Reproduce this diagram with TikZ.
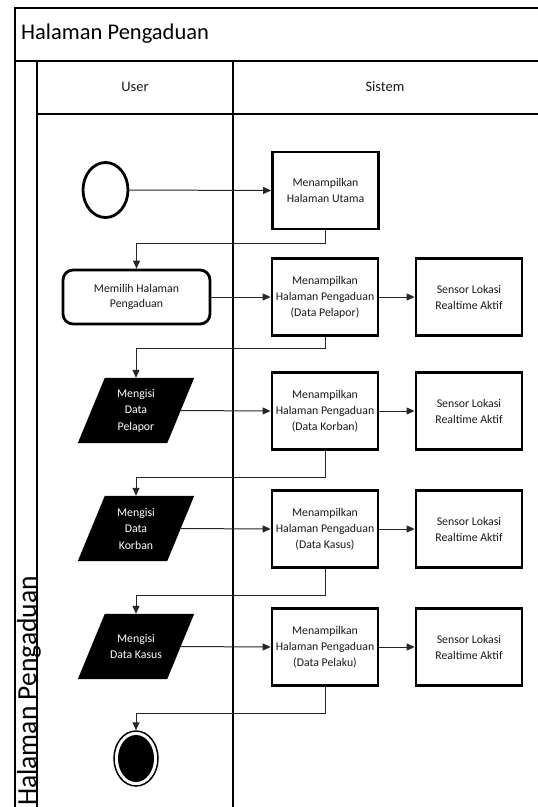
\documentclass[tikz,border=0pt]{standalone}
\usepackage{fontspec}
\setmainfont{Carlito}
\usetikzlibrary{arrows.meta,shapes.geometric,backgrounds}
\begin{document}
\begin{tikzpicture}[x=1pt,y=-1pt,
  frameline/.style={line width=2.8pt,black},
  boxnode/.style={draw,line width=2.8pt,minimum width=106pt,minimum height=77pt,align=center,inner sep=1pt,font=\fontsize{11.8}{16}\selectfont,text=black!90},
  usernode/.style={draw,line width=2.8pt,rounded corners=10pt,minimum width=147pt,minimum height=54pt,align=center,font=\fontsize{11.8}{14.5}\selectfont,text=black!90},
  paranode/.style={minimum width=89pt,minimum height=65pt,inner sep=0pt,align=center,text=white,font=\fontsize{11.8}{16.5}\selectfont},
  startnode/.style={ellipse,draw,line width=2.8pt,minimum width=45pt,minimum height=55pt,inner sep=0pt},
  endnode/.style={ellipse,draw,line width=1.5pt,minimum width=44pt,minimum height=55pt,inner sep=0pt},
  arr/.style={-{Triangle[length=8pt,width=7pt]},line width=1pt,black!85},
  lbl/.style={inner sep=0pt}
]
\useasboundingbox (0,0) rectangle (538,807);
% frame
\draw[frameline] (15,8) -- (540,8);
\draw[frameline] (15,6.6) -- (15,809);
\draw[frameline] (15,61) -- (540,61);
\draw[frameline] (37,61) -- (37,809);
\draw[frameline] (37,114) -- (540,114);
\draw[frameline] (233,61) -- (233,809);
\node[lbl,anchor=west,font=\fontsize{22.5}{24}\selectfont] (title) at (21,34) {Halaman Pengaduan};
\node[lbl,font=\fontsize{14.5}{16}\selectfont,text=black!90] (huser) at (135,87) {User};
\node[lbl,font=\fontsize{14.5}{16}\selectfont,text=black!90] (hsis) at (385,87) {Sistem};
\node[lbl,rotate=90,anchor=base west,font=\fontsize{27.5}{30}\selectfont] (vlabel) at (36,806) {Halaman Pengaduan};
% nodes
\node[startnode] (start) at (105.5,190) {};
\node[boxnode] (b1) at (325.5,190.5) {Menampilkan\\Halaman Utama};
\node[usernode] (m) at (136.5,297) {Memilih Halaman\\Pengaduan};
\node[boxnode] (b2) at (325,297) {Menampilkan\\Halaman Pengaduan\\(Data Pelapor)};
\node[boxnode] (s1) at (469,297) {Sensor Lokasi\\Realtime Aktif};
\node[paranode] (p1) at (136,410.5) {Mengisi\\Data\\Pelapor};
\node[boxnode] (b3) at (325,411) {Menampilkan\\Halaman Pengaduan\\(Data Korban)};
\node[boxnode] (s2) at (469,411) {Sensor Lokasi\\Realtime Aktif};
\node[paranode] (p2) at (136,528.5) {Mengisi\\Data\\Korban};
\node[boxnode] (b4) at (325,529) {Menampilkan\\Halaman Pengaduan\\(Data Kasus)};
\node[boxnode] (s3) at (469,529) {Sensor Lokasi\\Realtime Aktif};
\node[paranode] (p3) at (136,646.5) {Mengisi\\Data Kasus};
\node[boxnode] (b5) at (325,647) {Menampilkan\\Halaman Pengaduan\\(Data Pelaku)};
\node[boxnode] (s4) at (469,647) {Sensor Lokasi\\Realtime Aktif};
\node[endnode] (end) at (136,758.5) {};
\fill[black] (end.center) ellipse [x radius=18pt,y radius=23.5pt];
% parallelograms
\begin{scope}[on background layer]
\foreach \p in {p1,p2,p3}{
  \fill[black] ([xshift=-13.5pt]\p.south west) -- ([xshift=-13.5pt]\p.south east) -- ([xshift=13.5pt]\p.north east) -- ([xshift=13.5pt]\p.north west) -- cycle;
}
\end{scope}
% connectors
\draw[arr] (start.east) -- (b1.west);
\draw[arr] (b1.south) -- ++(0,13) -| (m.north);
\draw[arr] (m.east) -- (b2.west);
\draw[arr] (b2.east) -- (s1.west);
\draw[arr] (b2.south) -- ++(0,12) -| (p1.north);
\draw[arr] (p1.east) -- (b3.west);
\draw[arr] (b3.east) -- (s2.west);
\draw[arr] (b3.south) -- ++(0,27) -| (p2.north);
\draw[arr] (p2.east) -- (b4.west);
\draw[arr] (b4.east) -- (s3.west);
\draw[arr] (b4.south) -- ++(0,27) -| (p3.north);
\draw[arr] (p3.east) -- (b5.west);
\draw[arr] (b5.east) -- (s4.west);
\draw[arr] (b5.south) -- ++(0,27) -| (end.north);
\end{tikzpicture}
\end{document}
